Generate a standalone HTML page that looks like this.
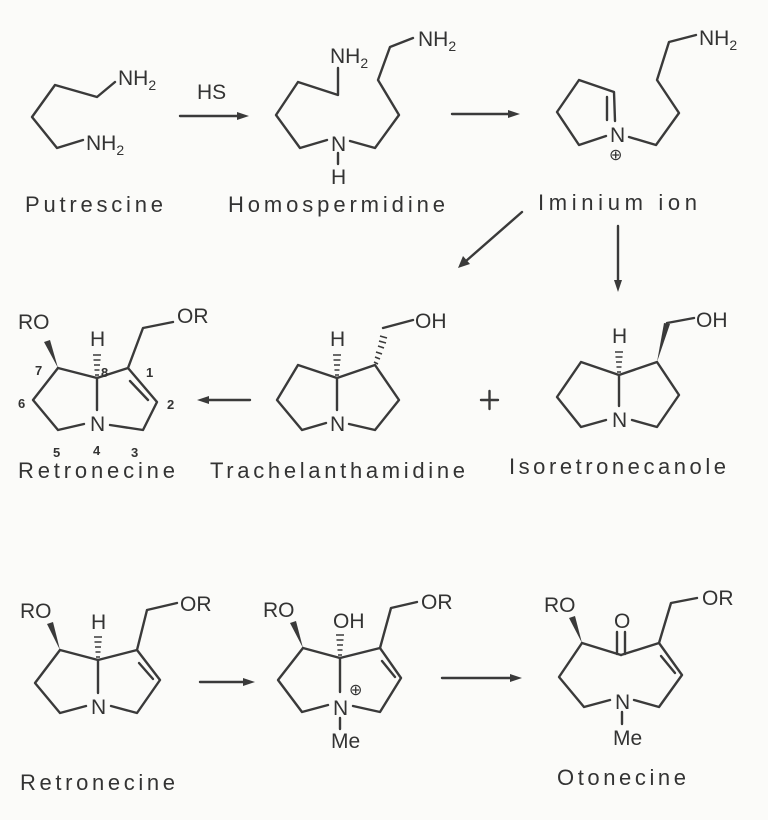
<!DOCTYPE html>
<html><head><meta charset="utf-8"><style>
html,body{margin:0;padding:0;background:#fbfbf9;}
svg{display:block}
text{font-family:"Liberation Sans",sans-serif;fill:#333;}
.l{font-size:22px;}
.a{font-size:21px;}
.s{font-size:14px;}
.n{font-size:13px;font-weight:bold;}
</style></head><body>
<svg width="768" height="820" viewBox="0 0 768 820" xmlns="http://www.w3.org/2000/svg">
<g fill="none" stroke="#3a3a3a" stroke-width="2.4" stroke-linejoin="round" stroke-linecap="round">
<!-- Putrescine -->
<polyline points="115,82 97,97 55,85 32,117 57,148 83,140"/>
<line x1="180" y1="116" x2="240" y2="116"/>
<!-- Homospermidine -->
<polyline points="338,68 338,95 298,82 276,115 300,148 327,140"/>
<line x1="338" y1="153" x2="338" y2="164"/>
<polyline points="350,141 375,148 399,115 378,80 390,47 413,38"/>
<line x1="452" y1="114" x2="510" y2="114"/>
<!-- Iminium -->
<polyline points="606,136 579,145 557,112 579,80 614,92 615,121"/>
<line x1="607" y1="97" x2="607" y2="120"/>
<polyline points="629,137 656,145 679,113 657,80 669,42 696,35"/>
<line x1="522" y1="212" x2="466" y2="261"/>
<line x1="618" y1="226" x2="618" y2="283"/>
<!-- Retronecine row2 -->
<polyline points="58,368 33,400 58,430 84,424"/>
<line x1="58" y1="368" x2="97" y2="378"/>
<line x1="97" y1="378" x2="128" y2="368"/>
<line x1="97" y1="378" x2="97" y2="410"/>
<polyline points="110,425 143,430 157,402 128,368 143,328 173,322"/>
<line x1="130" y1="381" x2="148" y2="400"/>
<line x1="250" y1="400" x2="205" y2="400"/>
<!-- Trachelanthamidine -->
<polyline points="337,378 298,365 277,400 302,430 326,423"/>
<line x1="337" y1="378" x2="337" y2="410"/>
<polyline points="337,378 375,365 399,400 375,430 349,424"/>
<line x1="383" y1="328" x2="413" y2="320"/>
<!-- Isoretronecanole -->
<polyline points="619,375 581,362 557,397 581,427 606,420"/>
<line x1="619" y1="375" x2="619" y2="406"/>
<polyline points="619,375 657,362 679,395 657,427 632,420"/>
<line x1="667" y1="323" x2="694" y2="318"/>
<line x1="481" y1="400" x2="498" y2="400"/>
<line x1="489.5" y1="391" x2="489.5" y2="409"/>
<!-- Row3 Retronecine -->
<polyline points="60,650 35,683 60,713 86,706"/>
<line x1="60" y1="650" x2="98" y2="660"/>
<line x1="98" y1="660" x2="137" y2="650"/>
<line x1="98" y1="660" x2="98" y2="693"/>
<polyline points="111,706 137,713 160,680 137,650 147,610 177,603"/>
<line x1="139" y1="663" x2="153" y2="679"/>
<line x1="200" y1="682" x2="247" y2="682"/>
<!-- middle -->
<polyline points="303,648 278,680 302,712 328,705"/>
<line x1="303" y1="648" x2="340" y2="658"/>
<line x1="340" y1="658" x2="380" y2="648"/>
<line x1="340" y1="658" x2="340" y2="692"/>
<line x1="340" y1="718" x2="340" y2="729"/>
<polyline points="353,706 380,712 401,678 380,648 391,608 417,602"/>
<line x1="382" y1="661" x2="395" y2="677"/>
<line x1="442" y1="678" x2="513" y2="678"/>
<!-- Otonecine -->
<polyline points="582,643 559,677 584,707 610,700"/>
<line x1="582" y1="643" x2="621" y2="655"/>
<line x1="621" y1="655" x2="659" y2="643"/>
<line x1="617" y1="632" x2="617" y2="654"/>
<line x1="625" y1="632" x2="625" y2="654"/>
<polyline points="634,700 659,707 682,675 659,643 671,603 697,598"/>
<line x1="661" y1="656" x2="675" y2="673"/>
<line x1="622" y1="712" x2="622" y2="724"/>
</g>
<g fill="#3a3a3a">
<polygon points="249,116 237,112 237,120"/>
<polygon points="520,114 508,110 508,118"/>
<polygon points="458,268 463,256 470,264"/>
<polygon points="618,292 614,280 622,280"/>
<polygon points="197,400 209,396 209,404"/>
<polygon points="255,682 243,678 243,686"/>
<polygon points="522,678 510,674 510,682"/>
<polygon points="58,368 44,342 50,340"/>
<polygon points="60,650 47,624 53,622"/>
<polygon points="303,648 290,623 296,621"/>
<polygon points="582,643 569,618 575,616"/>
<polygon points="657,362 664,323 670,324"/>
</g>
<g stroke="#3a3a3a" stroke-width="1.6">
<path d="M95,375h4M94.5,370h5M94,365h6M93.5,360h7M93,355h8"/>
<path d="M335,375h4M334.5,370h5M334,365h6M333.5,360h7M333,355h8"/>
<path d="M617,372h4M616.5,367h5M616,362h6M615.5,357h7M615,352h8"/>
<path d="M96,657h4M95.5,652h5M95,647h6M94.5,642h7M94,637h8"/>
<path d="M338,655h4M337.5,650h5M337,645h6M336.5,640h7M336,635h8"/>
<path d="M374,362l4,2M375,357l5,2M376,352l6,2M378,346l6,2M379,341l7,2M380,336l7,2"/>
</g>
<text class="a" x="118" y="85">NH<tspan class="s" dy="5">2</tspan></text>
<text class="a" x="86" y="150">NH<tspan class="s" dy="5">2</tspan></text>
<text class="a" x="197" y="99">HS</text>
<text class="a" x="330" y="63">NH<tspan class="s" dy="5">2</tspan></text>
<text class="a" x="331" y="151">N</text>
<text class="a" x="331" y="184">H</text>
<text class="a" x="418" y="46">NH<tspan class="s" dy="5">2</tspan></text>
<text class="a" x="610" y="142">N</text>
<text class="a" x="609" y="160" style="font-size:16px">⊕</text>
<text class="a" x="699" y="45">NH<tspan class="s" dy="5">2</tspan></text>
<text class="l" x="25" y="212" textLength="138" lengthAdjust="spacing">Putrescine</text>
<text class="l" x="228" y="212" textLength="217" lengthAdjust="spacing">Homospermidine</text>
<text class="l" x="538" y="210" textLength="159" lengthAdjust="spacing">Iminium ion</text>
<text class="a" x="18" y="329">RO</text>
<text class="a" x="177" y="323">OR</text>
<text class="a" x="90" y="346">H</text>
<text class="a" x="90" y="431">N</text>
<text class="n" x="35" y="375">7</text>
<text class="n" x="101" y="377">8</text>
<text class="n" x="146" y="377">1</text>
<text class="n" x="18" y="408">6</text>
<text class="n" x="167" y="409">2</text>
<text class="n" x="53" y="457">5</text>
<text class="n" x="93" y="455">4</text>
<text class="n" x="131" y="457">3</text>
<text class="l" x="18" y="478" textLength="157" lengthAdjust="spacing">Retronecine</text>
<text class="a" x="330" y="346">H</text>
<text class="a" x="330" y="431">N</text>
<text class="a" x="415" y="328">OH</text>
<text class="l" x="210" y="478" textLength="255" lengthAdjust="spacing">Trachelanthamidine</text>
<text class="a" x="612" y="343">H</text>
<text class="a" x="612" y="427">N</text>
<text class="a" x="696" y="327">OH</text>
<text class="l" x="509" y="474" textLength="217" lengthAdjust="spacing">Isoretronecanole</text>
<text class="a" x="20" y="618">RO</text>
<text class="a" x="180" y="611">OR</text>
<text class="a" x="91" y="629">H</text>
<text class="a" x="91" y="714">N</text>
<text class="l" x="20" y="790" textLength="155" lengthAdjust="spacing">Retronecine</text>
<text class="a" x="263" y="617">RO</text>
<text class="a" x="333" y="628">OH</text>
<text class="a" x="333" y="715">N</text>
<text class="a" x="349" y="695" style="font-size:16px">⊕</text>
<text class="a" x="331" y="748">Me</text>
<text class="a" x="421" y="609">OR</text>
<text class="a" x="544" y="612">RO</text>
<text class="a" x="614" y="628">O</text>
<text class="a" x="702" y="605">OR</text>
<text class="a" x="615" y="709">N</text>
<text class="a" x="613" y="745">Me</text>
<text class="l" x="557" y="785" textLength="129" lengthAdjust="spacing">Otonecine</text>
</svg>
</body></html>
